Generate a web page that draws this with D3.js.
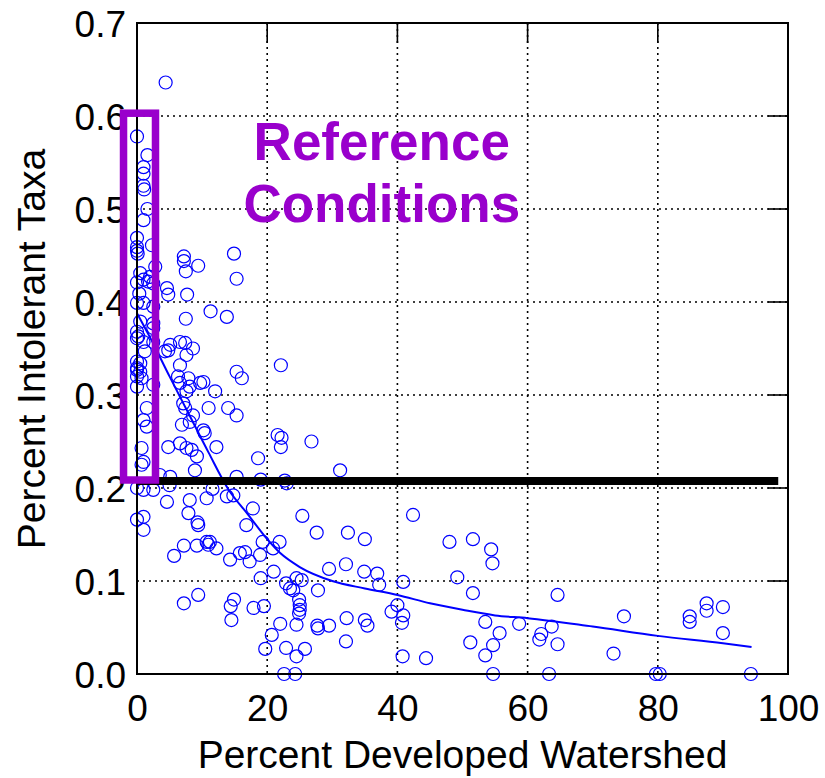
<!DOCTYPE html>
<html>
<head>
<meta charset="utf-8">
<script src="https://cdn.jsdelivr.net/npm/d3@7"></script>
<style>
  body { margin: 0; background: #fff; }
  svg { display: block; font-family: "Liberation Sans", Arial, sans-serif; }
</style>
</head>
<body>
<svg id="chart" width="825" height="778"></svg>
<script>
// sites: percent of watershed developed vs. share of intolerant taxa
const devPct = [
  4.4, 0, 1.6, 1.0, 1.0, 1.0, 1.1, 1.6, 1.0, 0, 0, 0, 0.1, 2.3, 7.2, 7.2, 7.5, 9.4, 14.9, 15.3,
  2.8, 0.5, 1.0, 1.7, 2.0, 4.6, 0, 2.5, 4.8, 7.7, 0.35, 0, 1.0, 2.5, 7.5, 11.3, 13.8, 0.5, 2.5, 2.5,
  0, 0.2, 0, 1.0, 2.5, 5.1, 6.6, 7.4, 8.6, 4.8, 4.3, 7.6, 1.2, 0, 0.5, 0, 0, 0.5, 0, 0.7,
  0, 2.5, 6.6, 6.3, 7.9, 6.6, 8.1, 9.7, 10.2, 12.0, 15.3, 16.1, 7.1, 7.4, 8.6, 11.0, 14.0, 15.3, 1.5, 1.0,
  1.5, 6.9, 8.1, 10.2, 10.4, 6.6, 7.6, 8.4, 9.2, 12.2, 4.8, 0.7, 1.0, 0.7, 8.9, 18.6, 3.5, 5.1, 0, 1.0,
  2.5, 4.6, 8.1, 10.7, 13.8, 14.8, 15.3, 5.0, 11.6, 7.9, 17.8, 25.4, 0, 1.0, 1.0, 9.3, 9.4, 16.8, 5.7, 7.2,
  9.2, 10.7, 11.2, 10.95, 12.2, 14.3, 15.8, 16.6, 17.3, 18.9, 19.3, 20.9, 21.9, 19.0, 21.0, 22.9, 23.5, 24.5, 25.3, 24.0,
  7.2, 9.4, 14.9, 14.4, 14.5, 17.9, 19.5, 24.9, 25.0, 25.0, 24.9, 24.5, 22.0, 20.7, 19.7, 22.9, 24.5, 25.8, 22.6, 24.3,
  22.1, 21.6, 22.2, 22.1, 26.8, 31.2, 19.0, 22.7, 23.0, 27.6, 32.4, 35.0, 42.4, 48.0, 51.6, 54.4, 29.5, 32.1, 34.9, 36.9,
  37.2, 40.9, 49.2, 51.6, 27.8, 27.7, 27.8, 29.5, 32.2, 35.0, 35.4, 32.1, 39.1, 40.0, 40.9, 40.7, 40.8, 44.4, 51.2, 53.5,
  53.5, 54.6, 64.6, 55.7, 54.7, 58.7, 62.1, 61.8, 63.7, 64.6, 73.2, 74.8, 84.9, 84.9, 87.5, 87.5, 90.0, 90.0, 54.7, 63.3,
  79.7, 80.3, 94.3, 7.6
];
const intolerant = [
  0.636, 0.578, 0.558, 0.545, 0.538, 0.525, 0.521, 0.500, 0.488, 0.469, 0.459, 0.455, 0.452, 0.461, 0.449, 0.444, 0.433, 0.439, 0.452, 0.425,
  0.438, 0.431, 0.424, 0.422, 0.427, 0.415, 0.421, 0.420, 0.408, 0.408, 0.409, 0.399, 0.399, 0.395, 0.382, 0.390, 0.384, 0.379, 0.377, 0.372,
  0.368, 0.363, 0.361, 0.357, 0.357, 0.354, 0.357, 0.356, 0.350, 0.348, 0.347, 0.343, 0.347, 0.336, 0.334, 0.329, 0.327, 0.325, 0.320, 0.318,
  0.309, 0.311, 0.332, 0.320, 0.318, 0.313, 0.309, 0.313, 0.314, 0.304, 0.325, 0.318, 0.291, 0.286, 0.278, 0.286, 0.286, 0.278, 0.286, 0.273,
  0.266, 0.268, 0.271, 0.262, 0.259, 0.248, 0.243, 0.241, 0.234, 0.244, 0.244, 0.243, 0.228, 0.225, 0.219, 0.232, 0.214, 0.212, 0.200, 0.198,
  0.198, 0.185, 0.187, 0.189, 0.191, 0.192, 0.212, 0.203, 0.199, 0.173, 0.178, 0.170, 0.166, 0.169, 0.155, 0.163, 0.160, 0.160, 0.127, 0.138,
  0.138, 0.142, 0.142, 0.139, 0.135, 0.123, 0.130, 0.131, 0.121, 0.128, 0.142, 0.135, 0.142, 0.103, 0.110, 0.0975, 0.092, 0.103, 0.101, 0.090,
  0.076, 0.085, 0.080, 0.073, 0.058, 0.071, 0.073, 0.080, 0.074, 0.069, 0.065, 0.053, 0.054, 0.042, 0.027, 0.028, 0.019, 0.027, 0, 0,
  0.332, 0.257, 0.254, 0.244, 0.250, 0.219, 0.209, 0.208, 0.205, 0.152, 0.152, 0.145, 0.171, 0.142, 0.145, 0.134, 0.113, 0.118, 0.110, 0.108,
  0.096, 0.099, 0.104, 0.087, 0.090, 0.052, 0.049, 0.052, 0.060, 0.058, 0.052, 0.035, 0.067, 0.074, 0.063, 0.055, 0.019, 0.017, 0.034, 0.056,
  0.020, 0.119, 0.085, 0.044, 0.031, 0.054, 0.043, 0.037, 0.051, 0.032, 0.022, 0.062, 0.062, 0.056, 0.076, 0.068, 0.072, 0.044, 0, 0,
  0, 0, 0, 0.304
];

// smoothed trend
const trendX = [0, 2, 5, 8, 11, 14, 17, 20, 22, 25, 30, 35, 40, 45, 50, 55, 60, 70, 80, 90, 94.4];
const trendY = [0.388, 0.362, 0.320, 0.279, 0.238, 0.199, 0.172, 0.145, 0.130, 0.115, 0.100, 0.092,
                0.085, 0.076, 0.069, 0.063, 0.060, 0.051, 0.041, 0.033, 0.029];

const xTicks = [0, 20, 40, 60, 80, 100];
const yTicks = [0, 0.1, 0.2, 0.3, 0.4, 0.5, 0.6, 0.7];

const thresholdY = 0.2075;
const thresholdX = [0, 98.5];
const refBoxX = [-2.07, 2.84];
const refBoxY = [0.2086, 0.603];
const refLabel = ["Reference", "Conditions"];

const margin = { top: 23, right: 37, bottom: 104, left: 137 };
const width = 825 - margin.left - margin.right;
const height = 778 - margin.top - margin.bottom;

const svg = d3.select("#chart");
const g = svg.append("g").attr("transform", `translate(${margin.left},${margin.top})`);

const x = d3.scaleLinear().domain([0, 100]).range([0, width]);
const y = d3.scaleLinear().domain([0, 0.7]).range([height, 0]);

// dotted grid
g.append("g").selectAll("line")
  .data(xTicks.slice(1, -1))
  .enter().append("line")
  .attr("x1", d => x(d)).attr("x2", d => x(d))
  .attr("y1", 0).attr("y2", height)
  .attr("stroke", "#000").attr("stroke-width", 1.6).attr("stroke-dasharray", "2,4");

g.append("g").selectAll("line")
  .data(yTicks.slice(1, -1))
  .enter().append("line")
  .attr("x1", 0).attr("x2", width)
  .attr("y1", d => y(d)).attr("y2", d => y(d))
  .attr("stroke", "#000").attr("stroke-width", 1.6).attr("stroke-dasharray", "2,4");

// mirror ticks on top and right
g.append("g").selectAll("line")
  .data(xTicks.slice(1, -1))
  .enter().append("line")
  .attr("x1", d => x(d)).attr("x2", d => x(d))
  .attr("y1", 0).attr("y2", 20)
  .attr("stroke", "#000").attr("stroke-width", 1.6);

g.append("g").selectAll("line")
  .data(yTicks.slice(1, -1))
  .enter().append("line")
  .attr("x1", width - 20).attr("x2", width)
  .attr("y1", d => y(d)).attr("y2", d => y(d))
  .attr("stroke", "#000").attr("stroke-width", 1.6);

// axes (labels only)
const xAxis = g.append("g")
  .attr("transform", `translate(0,${height})`)
  .call(d3.axisBottom(x).tickValues(xTicks).tickSize(0).tickPadding(21));
xAxis.select(".domain").remove();
xAxis.selectAll("text").attr("font-size", 37).attr("font-family", "Liberation Sans, Arial, sans-serif").attr("fill", "#000");

const yAxis = g.append("g")
  .call(d3.axisLeft(y).tickValues(yTicks).tickFormat(d3.format(".1f")).tickSize(0).tickPadding(11));
yAxis.select(".domain").remove();
yAxis.selectAll("text").attr("font-size", 37).attr("dy", "0.37em").attr("font-family", "Liberation Sans, Arial, sans-serif").attr("fill", "#000");

// points
const pts = devPct.map((d, i) => ({ x: d, y: intolerant[i] }));
g.append("g").selectAll("circle")
  .data(pts)
  .enter().append("circle")
  .attr("cx", d => x(d.x))
  .attr("cy", d => y(d.y))
  .attr("r", 6.5)
  .attr("fill", "none")
  .attr("stroke", "#0000ff")
  .attr("stroke-width", 1.2);

// trend line
const trend = trendX.map((d, i) => [d, trendY[i]]);
g.append("path")
  .datum(trend)
  .attr("d", d3.line().x(d => x(d[0])).y(d => y(d[1])).curve(d3.curveMonotoneX))
  .attr("fill", "none")
  .attr("stroke", "#0000ff")
  .attr("stroke-width", 2);

// threshold bar
g.append("line")
  .attr("x1", x(thresholdX[0])).attr("x2", x(thresholdX[1]))
  .attr("y1", y(thresholdY)).attr("y2", y(thresholdY))
  .attr("stroke", "#000").attr("stroke-width", 8);

// frame
g.append("rect")
  .attr("width", width).attr("height", height)
  .attr("fill", "none").attr("stroke", "#000").attr("stroke-width", 2);

// reference box
g.append("rect")
  .attr("x", x(refBoxX[0])).attr("y", y(refBoxY[1]))
  .attr("width", x(refBoxX[1]) - x(refBoxX[0]))
  .attr("height", y(refBoxY[0]) - y(refBoxY[1]))
  .attr("fill", "none").attr("stroke", "#9900cc").attr("stroke-width", 7.5);

g.append("g").selectAll("text")
  .data(refLabel)
  .enter().append("text")
  .attr("x", x(37.6))
  .attr("y", (d, i) => y(0.553) + i * 62)
  .attr("text-anchor", "middle")
  .attr("font-size", 53)
  .attr("font-weight", "bold")
  .attr("fill", "#9900cc")
  .text(d => d);

// axis titles
svg.append("text")
  .attr("x", margin.left + width / 2)
  .attr("y", 768)
  .attr("text-anchor", "middle")
  .attr("font-size", 39)
  .text("Percent Developed Watershed");

svg.append("text")
  .attr("transform", `translate(45,${349}) rotate(-90)`)
  .attr("text-anchor", "middle")
  .attr("font-size", 39)
  .text("Percent Intolerant Taxa");
</script>
</body>
</html>
